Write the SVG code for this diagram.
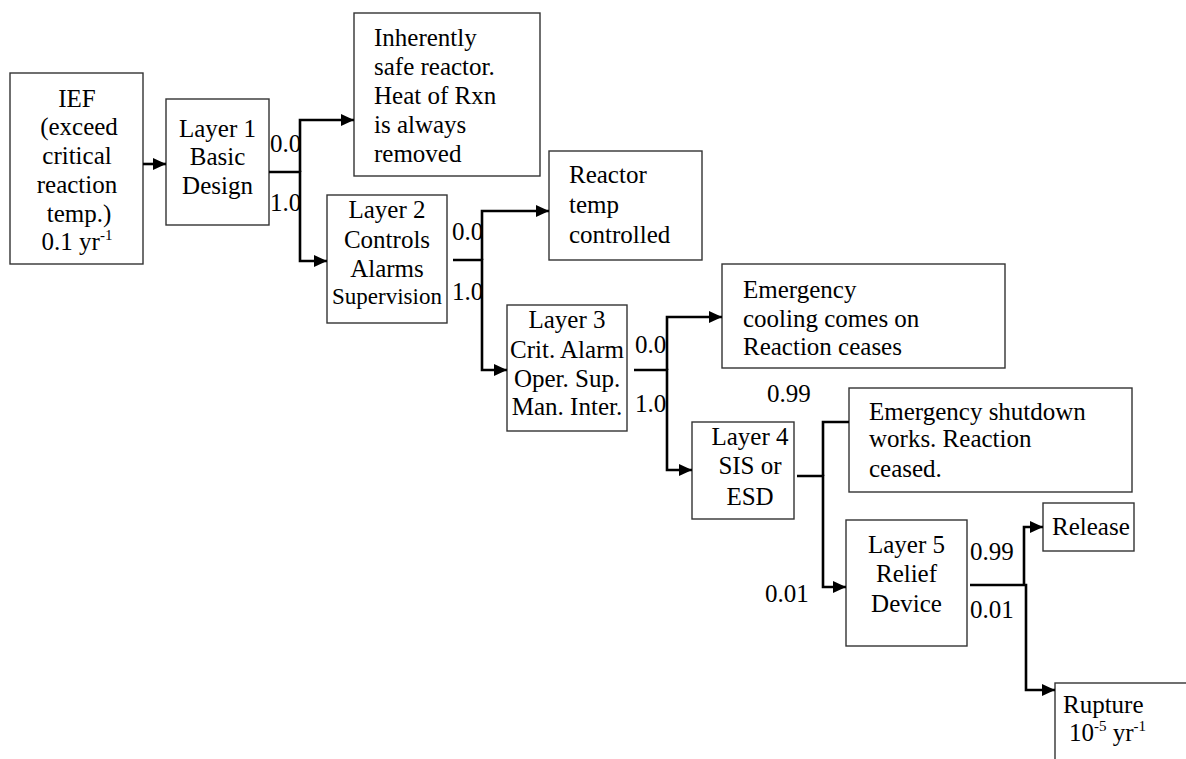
<svg xmlns="http://www.w3.org/2000/svg" width="1186" height="759" viewBox="0 0 1186 759" font-family="'Liberation Serif', Tinos, 'DejaVu Serif', serif">
<style>
.box{fill:#fff;stroke:#333;stroke-width:1.4}
text{font-family:"Liberation Serif",Tinos,"Times New Roman","DejaVu Serif",serif;font-size:25px;fill:#000}
.c{text-anchor:middle}
.sm{font-size:23px}
.sup{font-size:15px}
.conn path{fill:none;stroke:#000;stroke-width:2.6}
</style>
<defs>
<marker id="ah" markerUnits="userSpaceOnUse" markerWidth="14" markerHeight="12" refX="13" refY="6" orient="auto">
<path d="M0,0 L13,6 L0,12 z" fill="#000"/>
</marker>
</defs>
<rect width="1186" height="759" fill="#fff"/>
<g id="ief">
<rect class="box" x="10" y="73" width="133" height="191"/>
<text class="c" x="77" y="107">IEF</text>
<text class="c" x="79" y="135">(exceed</text>
<text class="c" x="77" y="164">critical</text>
<text class="c" x="77" y="193">reaction</text>
<text class="c" x="79" y="222">temp.)</text>
<text class="c" x="77" y="250">0.1 yr<tspan class="sup" dy="-10">-1</tspan></text>
</g>
<g id="layer1">
<rect class="box" x="166" y="99" width="103" height="126"/>
<text class="c" x="217.5" y="137">Layer 1</text>
<text class="c" x="217.5" y="165">Basic</text>
<text class="c" x="217.5" y="194">Design</text>
</g>
<g id="inherent">
<rect class="box" x="354" y="13" width="186" height="163"/>
<text x="374" y="46">Inherently</text>
<text x="374" y="75">safe reactor.</text>
<text x="374" y="104">Heat of Rxn</text>
<text x="374" y="133">is always</text>
<text x="374" y="162">removed</text>
</g>
<g id="layer2">
<rect class="box" x="327" y="195" width="120" height="128"/>
<text class="c" x="387" y="218">Layer 2</text>
<text class="c" x="387" y="248">Controls</text>
<text class="c" x="387" y="277">Alarms</text>
<text class="c sm" x="387" y="304">Supervision</text>
</g>
<g id="reactortemp">
<rect class="box" x="549" y="151" width="153" height="109"/>
<text x="569" y="183">Reactor</text>
<text x="569" y="213">temp</text>
<text x="569" y="243">controlled</text>
</g>
<g id="layer3">
<rect class="box" x="507" y="305" width="120" height="126"/>
<text class="c" x="567" y="328">Layer 3</text>
<text class="c" x="567" y="358">Crit. Alarm</text>
<text class="c" x="567" y="387">Oper. Sup.</text>
<text class="c" x="567" y="415">Man. Inter.</text>
</g>
<g id="emcooling">
<rect class="box" x="722" y="264" width="283" height="104"/>
<text x="743" y="298">Emergency</text>
<text x="743" y="327">cooling comes on</text>
<text x="743" y="355">Reaction ceases</text>
</g>
<g id="layer4">
<rect class="box" x="692" y="422" width="102" height="97"/>
<text class="c" x="750" y="445">Layer 4</text>
<text class="c" x="750" y="474">SIS or</text>
<text class="c" x="750" y="505">ESD</text>
</g>
<g id="emshutdown">
<rect class="box" x="849" y="388" width="283" height="104"/>
<text x="869" y="420">Emergency shutdown</text>
<text x="869" y="447">works. Reaction</text>
<text x="869" y="477">ceased.</text>
</g>
<g id="layer5">
<rect class="box" x="846" y="520" width="121" height="126"/>
<text class="c" x="906.5" y="553">Layer 5</text>
<text class="c" x="906.5" y="582">Relief</text>
<text class="c" x="906.5" y="612">Device</text>
</g>
<g id="release">
<rect class="box" x="1043" y="503" width="91" height="48"/>
<text x="1052" y="535">Release</text>
</g>
<g id="rupture">
<rect class="box" x="1055" y="683" width="140" height="90"/>
<text x="1063" y="713">Rupture</text>
<text x="1069" y="741">10<tspan class="sup" dy="-10">-5</tspan><tspan dy="10"> yr</tspan><tspan class="sup" dy="-10">-1</tspan></text>
</g>
<g id="connectors" class="conn">
<path d="M143,164 H166" marker-end="url(#ah)"/>
<path d="M269,172 H300 V261 H327" marker-end="url(#ah)"/>
<path d="M300,172 V120 H354" marker-end="url(#ah)"/>
<path d="M453,260 H482 V370 H507" marker-end="url(#ah)"/>
<path d="M482,260 V211 H549" marker-end="url(#ah)"/>
<path d="M634,370 H667 V470 H692" marker-end="url(#ah)"/>
<path d="M667,370 V317 H722" marker-end="url(#ah)"/>
<path d="M797,476 H823 V587 H846" marker-end="url(#ah)"/>
<path d="M823,476 V422 H849"/>
<path d="M970,585 H1026 V690 H1055" marker-end="url(#ah)"/>
<path d="M1024,585 V527 H1043" marker-end="url(#ah)"/>
</g>
<g id="labels">
<text x="270" y="152">0.0</text>
<text x="270" y="211">1.0</text>
<text x="452" y="240">0.0</text>
<text x="452" y="300">1.0</text>
<text x="635" y="353">0.0</text>
<text x="635" y="412">1.0</text>
<text x="767" y="402">0.99</text>
<text x="765" y="602">0.01</text>
<text x="970" y="560">0.99</text>
<text x="970" y="618">0.01</text>
</g>
</svg>
